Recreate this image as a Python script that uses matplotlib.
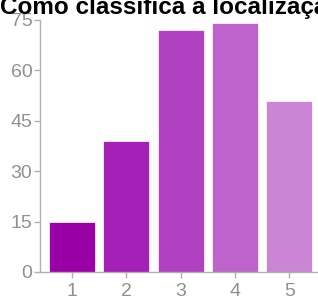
import matplotlib.pyplot as plt

# survey answers: rating 1..5 and number of responses
categories = ["1", "2", "3", "4", "5"]
counts = [15, 39, 72, 74, 51]
bar_colors = ["#9900a6", "#a420b6", "#b042c1", "#bd63cb", "#cb85d5"]
y_ticks = [0, 15, 30, 45, 60, 75]
title = "Como classifica a localização das instalações?"

plt.rcParams['font.family'] = ['Liberation Sans', 'DejaVu Sans']

fig = plt.figure(figsize=(3.18, 2.98), dpi=100)
ax = fig.add_axes([40 / 318, 26 / 298, 278 / 318, 252 / 298])

positions = range(1, len(categories) + 1)
ax.bar(positions, counts, width=0.85, color=bar_colors, edgecolor="white", linewidth=0.5)

ax.set_xlim(0.41, 5.53)
ax.set_ylim(0, 75)
ax.set_xticks(list(positions))
ax.set_xticklabels(categories)
ax.set_yticks(y_ticks)

for side in ["top", "right"]:
    ax.spines[side].set_visible(False)
for side in ["left", "bottom"]:
    ax.spines[side].set_color("#b0b0b0")
    ax.spines[side].set_linewidth(1)
ax.tick_params(axis="both", colors="#b0b0b0", labelcolor="#909090", labelsize=14, length=4.5, width=1)
ax.tick_params(axis="y", pad=1)
ax.tick_params(axis="x", pad=3.5)

fig.text(0.0, 1 - 14 / 298, title, fontsize=17.5, fontweight="bold", color="black", ha="left", va="baseline")

fig.savefig("out.png", dpi=100)
